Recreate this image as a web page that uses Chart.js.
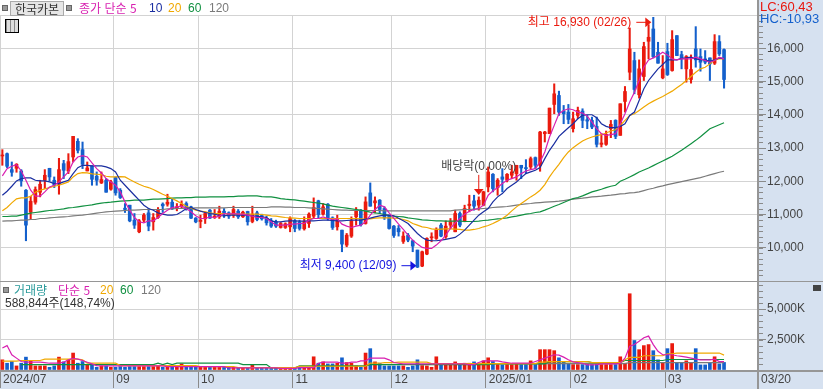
<!DOCTYPE html>
<html lang="ko">
<head>
<meta charset="utf-8">
<title>한국카본</title>
<script src="https://cdn.jsdelivr.net/npm/chart.js@4"></script>
<style>
  html, body { margin: 0; padding: 0; background: #fff; }
  #wrap { position: relative; width: 823px; height: 389px; overflow: hidden; font: 12px "Noto Sans CJK KR", sans-serif; color: #444; }
  #wrap canvas { position: absolute; left: 0; }
  .band { position: absolute; background: #d6e1f0; }
  .rule { position: absolute; background: #969696; }
  .t { position: absolute; white-space: nowrap; line-height: 14px; }
  .n { font-family: "Liberation Sans", "Noto Sans CJK KR", sans-serif; font-size: 12px; }
  .sq { position: absolute; width: 4px; height: 4px; background: #999; border: 1px solid #666; }
</style>
</head>
<body>
<div id="wrap">
  <div class="band" style="left:758px;top:0;width:65px;height:389px"></div>
  <div class="band" style="left:0;top:371px;width:823px;height:18px"></div>
  <canvas id="priceChart" width="823" height="282" style="top:0"></canvas>
  <canvas id="volumeChart" width="823" height="109" style="top:280px"></canvas>
  <div class="rule" style="left:757px;top:0;width:2px;height:389px"></div>
  <div class="rule" style="left:0;top:281px;width:823px;height:1px"></div>
  <div class="rule" style="left:0;top:370px;width:823px;height:2px"></div>

  <div class="sq" style="left:2px;top:5px"></div>
  <div class="t" style="left:10px;top:1px;width:52px;height:13px;line-height:13px;background:#e6e6e6;border:1px solid #aaa;text-align:center;color:#333">한국카본</div>
  <div class="sq" style="left:66px;top:5px"></div>
  <div class="t" style="left:79px;top:1px;color:#d81fb0">종가 단순 5</div>
  <div class="t n" style="left:149px;top:1px;color:#1a2ea0">10</div>
  <div class="t n" style="left:168px;top:1px;color:#f0a800">20</div>
  <div class="t n" style="left:188px;top:1px;color:#109040">60</div>
  <div class="t n" style="left:209px;top:1px;color:#7a7a7a">120</div>
  <div style="position:absolute;left:5px;top:19px;width:12px;height:12px;border:1px solid #000;background:repeating-linear-gradient(90deg,#888 0 1px,#ddd 1px 4px)"></div>
  <div class="t n" style="left:760px;top:0;color:#e8170f;font-size:13px">LC:60,43</div>
  <div class="t n" style="left:760px;top:12px;color:#1460cc;font-size:13px">HC:-10,93</div>

  <div class="sq" style="left:3px;top:287px"></div>
  <div class="t" style="left:14px;top:283px;color:#2a9a9a">거래량</div>
  <div class="t" style="left:58px;top:283px;color:#d81fb0">단순 5</div>
  <div class="t n" style="left:100px;top:283px;color:#f0a800">20</div>
  <div class="t n" style="left:120px;top:283px;color:#109040">60</div>
  <div class="t n" style="left:141px;top:283px;color:#7a7a7a">120</div>
  <div class="t n" style="left:5px;top:296px;color:#333">588,844주(148,74%)</div>
  <div style="position:absolute;left:813px;top:285px;width:8px;height:6px;background:#444"></div>
</div>

<script>
// 일봉 (2024/07 ~ 2025/03), 그림에서 읽은 값
const opens = [
  12760,12830,12350,12390,12310,11730,11070,11370,11670,12030,
  12390,12030,11910,12530,12310,12730,13200,12950,12310,12460,
  12150,11950,12030,11760,12110,11730,11190,11280,10830,10480,
  10830,11050,10780,10910,11310,11310,11370,11200,11240,11330,
  11230,10890,10790,10870,11130,10910,10930,11100,11050,10980,
  11100,10930,11090,10790,11050,10970,10890,10810,10780,10610,
  10610,10630,10810,10770,10570,10730,10950,11410,11010,11310,
  10900,10630,10530,10080,10350,10930,11110,10730,11650,11350,
  11430,11180,10950,10650,10580,10190,10380,10210,9930,9450,
  9810,10300,10280,10680,10330,10680,10480,11030,10810,11270,
  11410,11280,11280,11830,12210,11810,12130,12030,12180,12230,
  12480,12410,12430,12710,12480,13430,13430,14310,14580,14110,
  14080,13580,13980,14110,13850,13830,13650,13110,13110,13580,
  13830,13380,14400,15280,15630,14600,15150,16210,16580,15880,
  15110,15900,15330,16380,15810,15380,15060,15980,15750,15680,
  15710,15550,16200,15960
];
const highs = [
  12950,12850,12580,12530,12350,11750,11550,11830,12030,12350,
  12390,12130,12690,12630,12830,13350,13280,13180,12580,12460,
  12280,12280,12080,12030,12130,11780,11330,11280,11030,10850,
  11030,11180,11030,11210,11350,11610,11480,11330,11410,11380,
  11250,10910,10980,11080,11150,11150,11250,11180,11080,11250,
  11150,11100,11100,11250,11100,11010,10950,10880,10830,10760,
  10750,10930,10850,10830,10930,11050,11500,11430,11330,11330,
  10930,10980,10530,10430,10930,11210,11150,11530,11950,11530,
  11450,11230,10980,10670,10670,10480,10430,10230,9930,9900,
  10300,10450,10600,10730,10810,10880,11130,11080,11280,11580,
  11580,11530,11700,12430,12230,12080,12380,12230,12480,12480,
  12480,12650,12730,12730,13500,13500,14200,14930,14710,14280,
  14310,14080,14230,14180,13980,13930,13930,13430,13510,13830,
  13850,14330,14850,16610,15880,15650,16180,16710,16930,16180,
  15780,16150,16530,16380,15910,15780,15800,16650,15980,15930,
  15710,16410,16380,15980
];
const lows = [
  12480,12410,12150,12270,11850,10210,10850,11310,11530,11780,
  12010,11810,11610,12080,12230,12580,12850,12380,12310,11880,
  11880,11930,11670,11730,11580,11480,11060,10780,10580,10450,
  10780,10510,10530,10880,11060,11250,11150,11110,11180,11130,
  10880,10750,10600,10730,10880,10880,10880,10910,10880,10910,
  10880,10910,10680,10750,10810,10830,10680,10610,10610,10590,
  10580,10480,10480,10530,10530,10610,10880,10880,10980,10830,
  10550,10530,9880,10030,10310,10680,10650,10710,11250,11050,
  11030,10850,10560,10310,10350,10130,10180,9880,9400,9430,
  9790,10180,10250,10330,10280,10580,10480,10630,10780,11080,
  11130,11130,11260,11680,11680,11580,11680,11980,12080,12030,
  12080,12230,12380,12380,12300,13180,13430,14030,13980,13730,
  13730,13480,13880,13610,13580,13580,13030,13030,13080,13310,
  13280,13380,14080,15050,14630,14500,15030,15680,15710,15550,
  15080,15180,15310,15780,15380,14980,14950,15430,15310,15530,
  15030,15510,15780,14800
];
const closes = [
  12780,12450,12270,12510,12010,10680,11400,11750,11910,12180,
  12130,11880,12350,12330,12590,13350,12930,12510,12400,12060,
  12030,12050,11670,11980,11650,11510,11150,10810,10680,10810,
  10980,10650,10910,11150,11260,11370,11170,11230,11310,11200,
  10890,10780,10830,11030,10890,10950,11100,11030,10950,11150,
  10930,11070,10780,11010,10850,10870,10750,10650,10650,10730,
  10720,10880,10580,10580,10780,11010,11210,11000,11230,10880,
  10610,10850,10110,10380,10810,11110,10690,11380,11250,11410,
  11150,10900,10580,10370,10480,10350,10230,10050,9420,9880,
  10280,10330,10530,10350,10650,10780,11030,10680,11180,11310,
  11250,11430,11680,12280,11780,12030,12060,12210,12280,12480,
  12400,12380,12680,12480,13480,13480,14200,14630,14080,14030,
  13860,13880,14130,13830,13810,13630,13110,13150,13410,13710,
  13350,14330,14700,15980,14760,15380,16050,16330,15750,15550,
  15380,15210,16260,15780,15680,15750,15360,15650,15580,15580,
  15530,16200,15830,15060
];

// 이동평균선 5, 10, 20, 60, 120
const ma5 = [
  12160,12380,12450,12500,12310,12030,11730,11550,11550,11680,
  11830,11880,11980,12130,12280,12580,12730,12770,12730,12550,
  12380,12250,12080,11980,11880,11680,11380,11130,10910,10780,
  10750,10810,10810,10910,11030,11130,11210,11230,11250,11180,
  11080,10960,10880,10880,10930,10910,10950,11030,11010,11030,
  11010,11010,10980,10950,10910,10910,10880,10780,10680,10680,
  10680,10710,10710,10730,10730,10830,10880,10880,10930,10880,
  10850,10870,10710,10650,10610,10650,10680,10780,10980,11150,
  11280,11230,11050,10880,10710,10550,10380,10230,10110,10010,
  9980,9980,10080,10210,10380,10580,10750,10880,11010,11100,
  11150,11180,11280,11580,11710,11810,11930,12030,12080,12130,
  12230,12310,12350,12380,12580,12880,13330,13680,14030,14130,
  14180,14150,14080,14050,13960,13780,13580,13430,13380,13400,
  13430,13730,14030,14380,14680,15030,15430,15650,15710,15780,
  15880,15800,15680,15650,15680,15680,15680,15730,15680,15630,
  15580,15630,15730,15680
];
const ma10 = [
  11580,11700,11850,12010,12080,12100,12100,12030,12010,12010,
  11980,11930,11930,11980,12030,12230,12410,12480,12480,12460,
  12460,12460,12430,12380,12280,12030,11880,11730,11580,11430,
  11280,11180,11130,11050,11010,10980,10980,11000,11080,11180,
  11210,11150,11100,11060,11030,11010,10970,10960,10980,10980,
  10980,10980,10980,10960,10950,10930,10910,10810,10780,10780,
  10800,10810,10810,10800,10800,10810,10810,10820,10830,10830,
  10820,10810,10810,10820,10830,10830,10830,10860,10890,10930,
  10960,10980,10980,10960,10890,10810,10730,10580,10430,10310,
  10230,10210,10210,10230,10250,10280,10310,10410,10530,10680,
  10830,10980,11080,11180,11380,11530,11630,11780,11880,11980,
  12110,12230,12280,12330,12410,12680,12930,13130,13350,13480,
  13610,13730,13880,13980,14000,14000,13910,13730,13650,13610,
  13610,13650,13730,13980,14080,14430,14780,15030,15210,15380,
  15510,15650,15650,15650,15700,15710,15730,15680,15660,15650,
  15610,15650,15710,15680
];
const ma20 = [
  11110,11210,11350,11470,11500,11500,11550,11670,11730,11770,
  11810,11850,11880,11930,11980,12130,12230,12260,12250,12220,
  12210,12200,12150,12130,12130,12140,12130,12050,11980,11910,
  11850,11810,11750,11680,11610,11550,11480,11410,11330,11250,
  11190,11130,11100,11080,11050,11030,11030,11030,11010,11010,
  11010,11010,11010,11010,11010,11000,10980,10960,10950,10930,
  10910,10900,10890,10880,10880,10880,10880,10880,10880,10880,
  10880,10880,10880,10880,10880,10880,10870,10860,10870,10890,
  10900,10900,10900,10890,10880,10850,10810,10730,10680,10630,
  10610,10570,10550,10560,10570,10570,10560,10550,10530,10530,
  10550,10580,10630,10670,10730,10800,10880,10980,11110,11230,
  11330,11430,11530,11620,11730,11900,12130,12330,12510,12710,
  12880,13010,13110,13210,13280,13330,13370,13400,13450,13510,
  13550,13680,13830,13980,14030,14130,14230,14330,14410,14480,
  14550,14630,14710,14810,14910,15030,15150,15280,15380,15430,
  15530,15650,15680,15680
];
const ma60 = [
  10940,10940,10950,10950,10980,11010,11040,11060,11080,11100,
  11120,11130,11150,11170,11200,11210,11230,11250,11270,11290,
  11320,11340,11360,11370,11390,11400,11410,11420,11430,11430,
  11430,11450,11460,11460,11470,11480,11490,11500,11500,11510,
  11510,11520,11520,11520,11530,11530,11530,11530,11540,11540,
  11550,11550,11560,11560,11560,11540,11530,11530,11510,11480,
  11460,11450,11440,11420,11400,11380,11360,11340,11320,11280,
  11250,11230,11210,11190,11170,11150,11130,11100,11070,11050,
  11030,11000,10970,10950,10940,10930,10900,10880,10860,10840,
  10830,10820,10810,10810,10800,10800,10800,10800,10790,10790,
  10790,10800,10820,10830,10850,10870,10880,10900,10930,10950,
  10980,11010,11030,11060,11080,11130,11190,11250,11300,11360,
  11420,11480,11510,11560,11620,11680,11720,11760,11810,11850,
  11880,12000,12060,12130,12200,12280,12340,12400,12470,12540,
  12610,12680,12750,12840,12930,13030,13130,13230,13340,13460,
  13580,13640,13700,13760
];
const ma120 = [
  10800,10810,10810,10820,10830,10830,10850,10850,10880,10880,
  10900,10910,10920,10930,10940,10960,10970,10980,11000,11020,
  11040,11060,11080,11090,11100,11110,11120,11130,11130,11140,
  11150,11150,11150,11150,11150,11170,11170,11180,11180,11190,
  11190,11200,11200,11200,11200,11200,11200,11200,11210,11210,
  11210,11210,11210,11210,11210,11210,11210,11230,11230,11230,
  11220,11220,11210,11210,11210,11200,11190,11180,11170,11160,
  11150,11140,11130,11130,11120,11120,11120,11120,11120,11120,
  11120,11110,11110,11110,11110,11110,11110,11110,11110,11110,
  11110,11110,11110,11110,11110,11110,11130,11140,11150,11150,
  11160,11170,11180,11190,11210,11220,11230,11240,11260,11280,
  11300,11320,11330,11350,11360,11370,11380,11390,11400,11420,
  11440,11460,11480,11490,11510,11530,11540,11550,11570,11580,
  11600,11620,11630,11650,11660,11680,11720,11760,11790,11830,
  11860,11900,11930,11960,11990,12020,12050,12080,12110,12150,
  12190,12230,12270,12300
];

// 거래량 (천주)
const volumes = [
  834,556,695,334,556,1056,751,334,334,334,
  222,334,1056,667,834,1390,556,695,417,417,
  222,334,334,222,222,278,222,278,278,278,
  278,278,278,334,222,334,278,222,500,278,
  278,278,222,222,278,222,222,222,222,222,
  167,167,167,389,167,167,167,167,167,111,
  111,139,195,195,195,167,1084,556,667,500,
  500,556,1000,611,556,334,222,1390,1751,667,
  556,334,334,334,334,334,222,334,834,361,
  334,222,1084,389,389,389,667,417,556,556,
  667,556,751,1000,695,445,417,445,445,500,
  445,445,751,445,1668,1668,1668,1585,1000,695,
  500,445,445,445,556,445,556,445,445,445,
  445,1084,556,6255,2419,1668,2002,2085,1585,834,
  556,1751,2168,611,611,751,611,1751,417,417,
  611,1084,500,620
];
const volMa5 = [
  1807,2002,1251,973,695,639,639,639,639,612,
  556,556,556,639,834,945,890,778,639,500,
  361,334,334,334,334,334,334,334,334,334,
  334,334,334,334,334,278,278,278,278,278,
  278,278,278,278,278,278,278,278,167,167,
  167,167,167,167,167,167,167,167,167,139,
  139,139,139,195,195,195,195,556,639,639,
  639,639,556,556,639,639,751,751,973,973,
  973,973,834,612,556,500,500,500,500,500,
  500,500,500,500,500,500,500,500,500,445,
  445,612,751,751,751,751,667,612,556,556,
  556,556,556,695,834,973,1112,1251,1223,1056,
  834,667,612,556,417,417,445,500,500,500,
  500,556,973,1946,2085,2363,2641,2780,2085,1529,
  1251,1251,1251,1168,1112,1056,973,890,834,834,
  834,890,695,695
];
const volMa20 = [
  723,723,723,723,778,778,778,778,778,890,
  890,890,890,890,890,890,890,834,556,556,
  556,556,556,556,556,361,361,361,361,361,
  361,361,361,361,361,361,361,361,361,361,
  361,361,278,278,278,278,278,278,278,278,
  195,195,195,195,195,195,195,195,195,195,
  195,195,195,306,306,306,306,306,306,306,
  306,306,306,306,306,306,306,306,556,556,
  556,612,612,612,639,639,639,639,639,639,
  639,528,528,528,528,528,528,528,528,528,
  528,528,528,528,528,528,528,528,528,528,
  528,528,528,528,639,639,695,695,695,695,
  695,695,695,695,695,612,612,612,612,612,
  612,612,834,1029,1029,1029,1168,1168,1168,1168,
  1168,1334,1334,1390,1390,1390,1390,1390,1390,1390,
  1390,1390,1390,1223
];
const volMa60 = [
  null,null,null,null,445,445,445,445,445,445,
  445,445,445,445,445,445,445,445,445,445,
  445,445,445,445,445,445,445,445,445,445,
  445,445,445,556,445,556,445,556,556,556,
  556,556,556,556,556,556,556,556,556,556,
  556,445,445,445,445,445,445,167,167,167,
  167,167,167,334,334,334,334,334,334,334,
  334,334,334,334,334,334,334,334,445,445,
  445,445,445,445,445,445,445,445,445,445,
  445,445,445,445,445,445,445,445,445,445,
  445,445,445,445,500,500,500,500,500,500,
  500,500,500,500,500,500,695,695,695,695,
  695,695,695,695,695,612,612,612,612,612,
  612,612,778,778,778,778,778,778,778,778,
  778,862,862,862,862,862,862,862,862,862,
  862,862,862,862
];
const volMa120 = [
  null,null,null,null,null,null,null,null,null,null,
  null,null,null,null,null,null,null,null,null,null,
  null,null,null,null,null,null,null,null,null,null,
  null,null,null,null,null,null,null,null,null,null,
  null,null,null,null,null,null,null,null,null,null,
  null,null,null,null,null,null,null,null,null,null,
  null,null,null,null,null,null,null,null,null,null,
  null,null,null,null,null,null,null,null,null,null,
  null,null,null,null,null,null,null,null,null,null,
  null,528,528,528,528,528,528,528,528,528,
  528,528,528,528,528,528,528,528,528,528,
  528,528,528,528,528,528,528,528,528,528,
  528,528,528,528,528,528,528,528,528,528,
  528,528,528,612,612,612,612,612,612,612,
  612,612,612,612,612,612,612,612,612,612,
  612,612,612,612
];

// x축 눈금 (월 시작 위치)
const monthLabels = ['2024/07', '09', '10', '11', '12', '2025/01', '02', '03', '03/20'];
const monthStarts = [0, 24, 42, 62, 83, 103, 121, 141, 160.7];
// y축 눈금
const priceTickValues = [9000, 10000, 11000, 12000, 13000, 14000, 15000, 16000, 17000];
const priceTickLabels = ['', '10,000', '11,000', '12,000', '13,000', '14,000', '15,000', '16,000', ''];
const volumeTickValues = [0, 2500, 5000, 7300];
const volumeTickLabels = ['', '2,500K', '5,000K', ''];

const UP = '#ea1a0e';
const DOWN = '#1460cc';
const GRID = '#d3d3d3';
const AXIS = '#8a8a8a';
const FONT_FAMILY = '"Liberation Sans", "Noto Sans CJK KR", sans-serif';
const TICK_FONT = { family: FONT_FAMILY, size: 12 };
const candleColors = closes.map((c, i) => c >= opens[i] ? UP : DOWN);

function points(values) {
    return values.map((v, i) => ({ x: i, y: v }));
}

function lineSet(values, color, order) {
    return {
        type: 'line',
        data: points(values),
        borderColor: color,
        borderWidth: 1.2,
        pointRadius: 0,
        tension: 0,
        order: order
    };
}

function xAxis(withLabels) {
    return {
        type: 'linear',
        offset: false,
        min: -0.5,
        max: 160.2,
        afterBuildTicks(scale) {
            scale.ticks = monthStarts.map(v => ({ value: v - 0.5 }));
        },
        afterFit(scale) {
            scale.height = withLabels ? 19 : 0;
        },
        grid: { offset: false, color: GRID, drawTicks: withLabels, tickLength: 18, tickColor: AXIS },
        border: { display: false },
        ticks: {
            display: withLabels,
            autoSkip: false,
            maxRotation: 0,
            minRotation: 0,
            align: 'start',
            padding: -16,
            labelOffset: 3,
            color: '#444',
            font: TICK_FONT,
            callback: value => monthLabels[monthStarts.findIndex(s => s - 0.5 === value)]
        }
    };
}

function yAxis(values, labels) {
    return {
        position: 'right',
        min: values[0],
        max: values[values.length - 1],
        afterBuildTicks(scale) {
            scale.ticks = values.map(v => ({ value: v }));
        },
        afterFit(scale) {
            scale.width = 65;
            scale.paddingTop = 0;
            scale.paddingBottom = 0;
        },
        grid: { color: GRID, tickLength: 8, tickColor: AXIS },
        border: { display: false },
        ticks: {
            autoSkip: false,
            padding: 1,
            color: '#444',
            font: TICK_FONT,
            callback: value => labels[values.indexOf(value)]
        }
    };
}

// 오른쪽 축의 작은 눈금
const minorTicks = {
    id: 'minorTicks',
    afterDraw(chart, args, opts) {
        const s = chart.scales.y, c = chart.ctx;
        c.save();
        c.strokeStyle = AXIS;
        c.lineWidth = 1;
        for (let v = s.min; v <= s.max; v += opts.step) {
            const y = Math.round(s.getPixelForValue(v)) + 0.5;
            c.beginPath();
            c.moveTo(s.left, y);
            c.lineTo(s.left + 5, y);
            c.stroke();
        }
        c.restore();
    }
};

function arrowHead(c, x, y, dx, dy, size) {
    c.beginPath();
    c.moveTo(x, y);
    c.lineTo(x - dx * size - dy * size * 0.8, y - dy * size - dx * size * 0.8);
    c.lineTo(x - dx * size + dy * size * 0.8, y - dy * size + dx * size * 0.8);
    c.closePath();
    c.fill();
}

// 최고/최저/배당락 표시
const notes = {
    id: 'notes',
    afterDatasetsDraw(chart) {
        const c = chart.ctx, xs = chart.scales.x, ys = chart.scales.y;
        c.save();
        c.font = '12px ' + FONT_FAMILY;
        c.textBaseline = 'middle';

        const hiI = highs.indexOf(Math.max(...highs));
        const hiX = xs.getPixelForValue(hiI) - 2;
        const hiY = ys.getPixelForValue(highs[hiI]) + 5;
        c.fillStyle = c.strokeStyle = UP;
        c.textAlign = 'right';
        c.fillText('최고 16,930 (02/26)', hiX - 20, hiY);
        c.lineWidth = 1;
        c.beginPath();
        c.moveTo(hiX - 15, hiY);
        c.lineTo(hiX - 4, hiY);
        c.stroke();
        arrowHead(c, hiX, hiY, 1, 0, 6);

        const loI = lows.indexOf(Math.min(...lows));
        const loX = xs.getPixelForValue(loI) - 1;
        const loY = ys.getPixelForValue(lows[loI]) - 2;
        c.fillStyle = c.strokeStyle = '#1414e0';
        c.fillText('최저 9,400 (12/09)', loX - 20, loY);
        c.beginPath();
        c.moveTo(loX - 15, loY);
        c.lineTo(loX - 4, loY);
        c.stroke();
        arrowHead(c, loX, loY, 1, 0, 6);

        const divI = 101;
        const divX = xs.getPixelForValue(divI);
        const divY = ys.getPixelForValue(highs[divI]) - 2;
        c.fillStyle = c.strokeStyle = UP;
        c.beginPath();
        c.moveTo(divX, divY - 20);
        c.lineTo(divX, divY - 5);
        c.stroke();
        arrowHead(c, divX, divY, 0, 1, 6);
        c.fillStyle = '#444';
        c.textAlign = 'center';
        c.fillText('배당락(0.00%)', divX, divY - 28);
        c.restore();
    }
};

new Chart(document.getElementById('priceChart'), {
    type: 'bar',
    data: {
        datasets: [
            {
                data: lows.map((l, i) => ({ x: i, y: [l, highs[i]] })),
                backgroundColor: candleColors,
                grouped: false,
                barPercentage: 1,
                categoryPercentage: 1,
                maxBarThickness: 1.4,
                order: 7
            },
            {
                data: opens.map((o, i) => ({ x: i, y: [o, closes[i]] })),
                backgroundColor: candleColors,
                grouped: false,
                barPercentage: 1,
                categoryPercentage: 1,
                maxBarThickness: 3,
                minBarLength: 1,
                order: 6
            },
            lineSet(ma120, '#7a7a7a', 5),
            lineSet(ma60, '#109040', 4),
            lineSet(ma20, '#f0a800', 3),
            lineSet(ma10, '#1a2ea0', 2),
            lineSet(ma5, '#d81fb0', 1)
        ]
    },
    options: {
        responsive: false,
        animation: false,
        layout: { padding: { top: 15, bottom: 1 } },
        plugins: { legend: { display: false }, tooltip: { enabled: false }, minorTicks: { step: 1000 / 6 } },
        scales: {
            x: xAxis(false),
            y: yAxis(priceTickValues, priceTickLabels)
        }
    },
    plugins: [minorTicks, notes]
});

new Chart(document.getElementById('volumeChart'), {
    type: 'bar',
    data: {
        datasets: [
            {
                data: points(volumes),
                backgroundColor: candleColors,
                grouped: false,
                barPercentage: 1,
                categoryPercentage: 1,
                maxBarThickness: 3,
                order: 5
            },
            lineSet(volMa120, '#7a7a7a', 4),
            lineSet(volMa60, '#109040', 3),
            lineSet(volMa20, '#f0a800', 2),
            lineSet(volMa5, '#d81fb0', 1)
        ]
    },
    options: {
        responsive: false,
        animation: false,
        layout: { padding: { top: 1 } },
        plugins: { legend: { display: false }, tooltip: { enabled: false }, minorTicks: { step: 500 } },
        scales: {
            x: xAxis(true),
            y: yAxis(volumeTickValues, volumeTickLabels)
        }
    },
    plugins: [minorTicks]
});
</script>
</body>
</html>
